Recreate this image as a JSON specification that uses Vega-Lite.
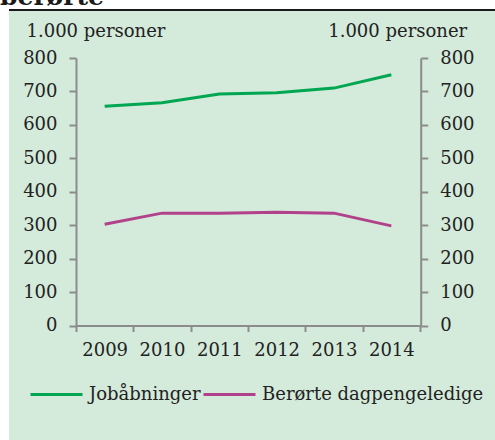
{
  "$schema": "https://vega.github.io/schema/vega-lite/v6.json",
  "width": 486,
  "height": 430,
  "autosize": {"type": "none"},
  "padding": {"left": 9, "top": 10, "right": 0, "bottom": 0},
  "background": "white",
  "view": {"fill": "#D4EADA", "stroke": "#1a1a1a", "strokeWidth": 2, "strokeDash": [486, 3000]},
  "title": {"text": "berørte", "anchor": "start", "frame": "group", "font": "DejaVu Serif", "fontSize": 25, "fontWeight": "bold", "color": "#1a1a1a", "baseline": "alphabetic", "offset": -19.5, "dx": -9},
  "data": {"values": [
    {"year": "2009", "serie": "Jobåbninger", "value": 656},
    {"year": "2010", "serie": "Jobåbninger", "value": 666},
    {"year": "2011", "serie": "Jobåbninger", "value": 692},
    {"year": "2012", "serie": "Jobåbninger", "value": 696},
    {"year": "2013", "serie": "Jobåbninger", "value": 710},
    {"year": "2014", "serie": "Jobåbninger", "value": 750},
    {"year": "2009", "serie": "Berørte dagpengeledige", "value": 303},
    {"year": "2010", "serie": "Berørte dagpengeledige", "value": 336},
    {"year": "2011", "serie": "Berørte dagpengeledige", "value": 336},
    {"year": "2012", "serie": "Berørte dagpengeledige", "value": 339},
    {"year": "2013", "serie": "Berørte dagpengeledige", "value": 336},
    {"year": "2014", "serie": "Berørte dagpengeledige", "value": 298}
  ]},
  "encoding": {
    "x": {
      "field": "year", "type": "ordinal",
      "scale": {"type": "band", "range": [67, 411], "paddingInner": 0, "paddingOuter": 0},
      "axis": {"orient": "bottom", "offset": -114.5, "title": null, "labelAngle": 0, "tickBand": "extent",
        "domainColor": "#8c8c8c", "domainWidth": 2, "tickColor": "#8c8c8c", "tickWidth": 2, "tickSize": 6,
        "labelFont": "DejaVu Serif", "labelFontSize": 18, "labelColor": "#222222", "labelPadding": 10}
    },
    "color": {
      "field": "serie", "type": "nominal",
      "scale": {"domain": ["Jobåbninger", "Berørte dagpengeledige"], "range": ["#00A651", "#B2418B"]},
      "legend": {"orient": "none", "legendX": 20, "legendY": 357, "direction": "horizontal", "title": null, "gridAlign": "none",
        "symbolType": "stroke", "symbolSize": 2704, "symbolStrokeWidth": 3, "labelFont": "DejaVu Serif",
        "labelFontSize": 18, "labelColor": "#222222", "labelOffset": 5, "columnPadding": -4, "labelLimit": 300}
    }
  },
  "layer": [
    {
      "transform": [{"filter": "datum.serie === 'Jobåbninger'"}],
      "mark": {"type": "line", "strokeWidth": 3},
      "encoding": {
        "y": {"field": "value", "type": "quantitative",
          "scale": {"domain": [0, 800], "range": [315.5, 48], "nice": false, "zero": true},
          "axis": {"orient": "left", "offset": -67, "values": [0, 100, 200, 300, 400, 500, 600, 700, 800], "grid": false,
            "domainColor": "#8c8c8c", "domainWidth": 2, "tickColor": "#8c8c8c", "tickWidth": 2, "tickSize": 7,
            "labelFont": "DejaVu Serif", "labelFontSize": 18, "labelColor": "#222222", "labelPadding": 12,
            "title": "1.000 personer", "titleAngle": 0, "titleAlign": "left", "titleBaseline": "alphabetic",
            "titleX": -50, "titleY": 26, "titleFont": "DejaVu Serif", "titleFontSize": 18, "titleFontWeight": "normal", "titleColor": "#222222"}
        }
      }
    },
    {
      "transform": [{"filter": "datum.serie === 'Berørte dagpengeledige'"}],
      "mark": {"type": "line", "strokeWidth": 3},
      "encoding": {
        "y": {"field": "value", "type": "quantitative",
          "scale": {"domain": [0, 800], "range": [315.5, 48], "nice": false, "zero": true},
          "axis": {"orient": "right", "offset": -74.3, "values": [0, 100, 200, 300, 400, 500, 600, 700, 800], "grid": false,
            "domainColor": "#8c8c8c", "domainWidth": 2, "tickColor": "#8c8c8c", "tickWidth": 2, "tickSize": 7,
            "labelFont": "DejaVu Serif", "labelFontSize": 18, "labelColor": "#222222", "labelPadding": 12,
            "title": "1.000 personer", "titleAngle": 0, "titleAlign": "right", "titleBaseline": "alphabetic",
            "titleX": 46, "titleY": 26, "titleFont": "DejaVu Serif", "titleFontSize": 18, "titleFontWeight": "normal", "titleColor": "#222222"}
        }
      }
    }
  ],
  "resolve": {"axis": {"y": "independent"}}
}
